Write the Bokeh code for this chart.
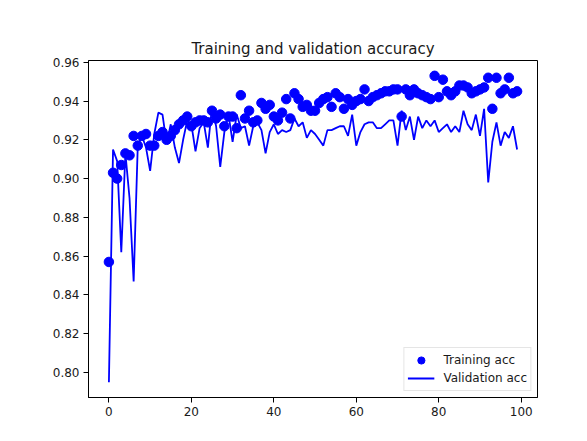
from bokeh.plotting import figure
from bokeh.models import Range1d, FixedTicker, Legend, LegendItem
from bokeh.embed import file_html
from bokeh.resources import INLINE

epochs = list(range(100))

training_acc = [
    0.857, 0.903, 0.900, 0.907, 0.913, 0.912, 0.922, 0.917, 0.922, 0.923,
    0.917, 0.917, 0.922, 0.924, 0.920, 0.922, 0.925, 0.928, 0.930, 0.932,
    0.927, 0.929, 0.930, 0.930, 0.929, 0.935, 0.931, 0.933, 0.927, 0.932,
    0.932, 0.926, 0.943, 0.931, 0.935, 0.929, 0.930, 0.939, 0.936, 0.938,
    0.932, 0.930, 0.934, 0.941, 0.931, 0.944, 0.941, 0.937, 0.938, 0.935,
    0.935, 0.939, 0.941, 0.942, 0.937, 0.944, 0.942, 0.936, 0.941, 0.938,
    0.940, 0.941, 0.946, 0.940, 0.942, 0.943, 0.944, 0.945, 0.945, 0.946,
    0.946, 0.932, 0.946, 0.943, 0.946, 0.944, 0.943, 0.942, 0.941, 0.953,
    0.942, 0.951, 0.945, 0.943, 0.945, 0.948, 0.948, 0.947, 0.944, 0.945,
    0.946, 0.947, 0.952, 0.936, 0.952, 0.944, 0.946, 0.952, 0.944, 0.945,
]

validation_acc = [
    0.795, 0.915, 0.909, 0.862, 0.913, 0.890, 0.847, 0.917, 0.922, 0.916,
    0.904, 0.923, 0.934, 0.933, 0.918, 0.928, 0.916, 0.908, 0.920, 0.930,
    0.928, 0.914, 0.926, 0.929, 0.916, 0.937, 0.927, 0.906, 0.924, 0.933,
    0.919, 0.933, 0.926, 0.927, 0.917, 0.927, 0.929, 0.925, 0.913, 0.924,
    0.928, 0.923, 0.925, 0.924, 0.925, 0.931, 0.927, 0.929, 0.921, 0.925,
    0.923, 0.920, 0.917, 0.925, 0.925, 0.926, 0.927, 0.927, 0.922, 0.933,
    0.917, 0.924, 0.928, 0.929, 0.929, 0.926, 0.926, 0.928, 0.930, 0.930,
    0.917, 0.935, 0.925, 0.932, 0.920, 0.932, 0.926, 0.930, 0.927, 0.930,
    0.924, 0.926, 0.928, 0.924, 0.927, 0.924, 0.935, 0.928, 0.925, 0.933,
    0.922, 0.936, 0.898, 0.919, 0.929, 0.917, 0.924, 0.921, 0.927, 0.915,
]

x_ticks = [0, 20, 40, 60, 80, 100]
y_ticks = [0.80, 0.82, 0.84, 0.86, 0.88, 0.90, 0.92, 0.94, 0.96]

FONT = "DejaVu Sans"
TXT = "#1a1a1a"

p = figure(
    output_backend="svg", toolbar_location=None,
    frame_width=449, frame_height=337,
    min_border_left=88, min_border_top=60, min_border_right=42, min_border_bottom=35,
    x_range=Range1d(-4.95, 103.95), y_range=Range1d(0.7871, 0.9609),
    title="Training and validation accuracy",
)
p.title.align = "center"
p.title.text_font = FONT
p.title.text_font_size = "15px"
p.title.text_font_style = "normal"
p.title.text_color = TXT
p.title.offset = 0
p.title.standoff = 6

p.xgrid.visible = False
p.ygrid.visible = False
p.outline_line_color = "black"
p.outline_line_width = 1
p.background_fill_color = "white"
p.border_fill_color = "white"

for ax in (p.xaxis[0], p.yaxis[0]):
    ax.major_label_text_font = FONT
    ax.major_label_text_font_size = "12px"
    ax.major_label_text_color = TXT
    ax.minor_tick_line_color = None
    ax.major_tick_out = 5
    ax.major_tick_in = 0
    ax.major_tick_line_color = "black"
    ax.axis_line_color = "black"
    ax.major_label_standoff = 4

p.xaxis.ticker = FixedTicker(ticks=x_ticks)
p.yaxis.ticker = FixedTicker(ticks=y_ticks)
p.yaxis.major_label_overrides = {t: f"{t:.2f}" for t in y_ticks}

pts = p.scatter(epochs, training_acc, size=9.5, color="#0000ff")
ln = p.line(epochs, validation_acc, line_width=1.8, color="#0000ff")

legend = Legend(
    items=[LegendItem(label="Training acc", renderers=[pts]),
           LegendItem(label="Validation acc", renderers=[ln])],
    location="bottom_right",
)
legend.label_text_font = FONT
legend.label_text_font_size = "12px"
legend.label_text_color = TXT
legend.border_line_color = "#cccccc"
legend.border_line_width = 1
legend.background_fill_alpha = 0.8
legend.margin = 6
legend.padding = 3
legend.spacing = 0
legend.glyph_width = 27
legend.glyph_height = 18
legend.label_height = 18
legend.label_standoff = 9
p.add_layout(legend)

open("out.html", "w").write(file_html(p, INLINE))
